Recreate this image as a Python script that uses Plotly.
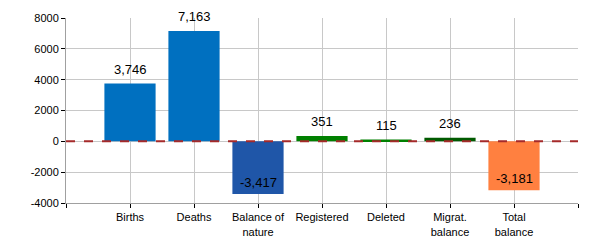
import plotly.graph_objects as go

categories = ["Births", "Deaths", "Balance of<br>nature", "Registered", "Deleted", "Migrat.<br>balance", "Total<br>balance"]
values = [3746, 7163, -3417, 351, 115, 236, -3181]
colors = ["#0070C0", "#0070C0", "#1F56A8", "#008000", "#008000", "#005A00", "#FF8040"]
ytick_vals = [-4000, -2000, 0, 2000, 4000, 6000, 8000]

xpos = list(range(len(categories)))
labels = [f"{v:,}" for v in values]

fig = go.Figure()
fig.add_trace(go.Bar(
    x=xpos, y=values, width=0.8,
    marker=dict(color=colors, line=dict(width=0)),
    hoverinfo="skip",
))
fig.add_shape(type="line", xref="x", yref="y", x0=-1, x1=7, y0=0, y1=0,
              line=dict(color="#A52A2A", width=2, dash="dash"), layer="above")

for x, v, t in zip(xpos, values, labels):
    fig.add_annotation(x=x, y=v, text=t, showarrow=False,
                       xref="x", yref="y", yanchor="bottom",
                       yshift=5 if v >= 0 else 2,
                       font=dict(family="Liberation Sans, Arial", size=13, color="#000000"))

fig.update_layout(
    width=600, height=250,
    margin=dict(l=66, r=22, t=15, b=46),
    plot_bgcolor="white", paper_bgcolor="white",
    showlegend=False,
    font=dict(family="Liberation Sans, Arial", size=11, color="#000000"),
    xaxis=dict(
        range=[-1, 7], tickmode="array",
        tickvals=[-1] + xpos + [7],
        ticktext=[""] + categories + [""],
        showgrid=True, gridcolor="#C8C8C8", gridwidth=1,
        showline=True, linecolor="#A0A0A0", linewidth=1,
        ticks="outside", ticklen=4, tickcolor="#000000",
        zeroline=False, tickfont=dict(size=11),
    ),
    yaxis=dict(
        range=[-4000, 8000], tickmode="array",
        tickvals=ytick_vals, ticktext=[str(v) for v in ytick_vals],
        showgrid=True, gridcolor="#C8C8C8", gridwidth=1,
        showline=True, linecolor="#A0A0A0", linewidth=1,
        ticks="outside", ticklen=4, tickcolor="#000000",
        zeroline=False, tickfont=dict(size=11),
    ),
)
fig.write_html("out.html")
